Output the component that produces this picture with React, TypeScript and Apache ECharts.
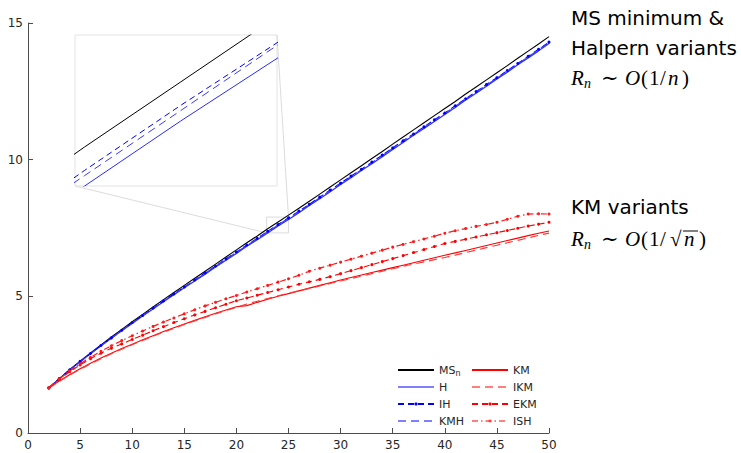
import React, { useEffect, useRef } from "react";
import * as echarts from "echarts";

// ---------- data ----------
const nValues = [2,3,4,5,6,7,8,9,10,11,12,13,14,15,16,17,18,19,20,21,22,23,24,25,26,27,28,29,30,31,32,33,34,35,36,37,38,39,40,41,42,43,44,45,46,47,48,49,50];

const msN = [1.65,1.99,2.32,2.63,2.93,3.22,3.51,3.79,4.07,4.34,4.61,4.88,5.14,5.40,5.66,5.92,6.18,6.44,6.70,6.96,7.21,7.47,7.72,7.97,8.22,8.48,8.74,9.00,9.26,9.52,9.78,10.04,10.30,10.57,10.83,11.09,11.35,11.61,11.87,12.13,12.40,12.66,12.92,13.18,13.44,13.71,13.97,14.23,14.50];
const hVals = [1.65,1.98,2.31,2.61,2.90,3.19,3.47,3.74,4.01,4.28,4.54,4.80,5.06,5.31,5.56,5.81,6.07,6.32,6.57,6.83,7.07,7.32,7.57,7.81,8.06,8.32,8.57,8.83,9.09,9.34,9.60,9.85,10.11,10.37,10.63,10.89,11.14,11.40,11.65,11.91,12.18,12.43,12.69,12.95,13.20,13.47,13.72,13.98,14.25];
const ihVals = [1.65,1.99,2.31,2.62,2.91,3.20,3.48,3.76,4.04,4.30,4.57,4.83,5.09,5.34,5.60,5.86,6.11,6.37,6.62,6.88,7.12,7.38,7.63,7.87,8.12,8.37,8.63,8.89,9.14,9.40,9.65,9.91,10.17,10.43,10.69,10.94,11.20,11.46,11.71,11.97,12.23,12.49,12.75,13.00,13.26,13.52,13.78,14.04,14.30];
const kmhVals = [1.65,1.98,2.30,2.61,2.90,3.19,3.47,3.75,4.02,4.29,4.56,4.82,5.07,5.33,5.58,5.84,6.10,6.35,6.61,6.86,7.11,7.36,7.61,7.86,8.10,8.35,8.61,8.87,9.12,9.38,9.63,9.89,10.15,10.41,10.67,10.92,11.18,11.44,11.69,11.95,12.21,12.47,12.73,12.98,13.24,13.50,13.76,14.02,14.28];
const kmVals = [1.65,1.90,2.13,2.35,2.55,2.74,2.92,3.09,3.25,3.41,3.56,3.71,3.85,3.99,4.12,4.25,4.38,4.50,4.62,4.66,4.78,4.89,5.00,5.10,5.20,5.30,5.40,5.50,5.60,5.69,5.78,5.87,5.96,6.05,6.14,6.23,6.32,6.41,6.50,6.59,6.68,6.77,6.86,6.95,7.04,7.13,7.22,7.31,7.39];
const ikmVals = [1.65,1.89,2.12,2.33,2.53,2.72,2.90,3.07,3.23,3.39,3.54,3.69,3.83,3.97,4.10,4.23,4.36,4.48,4.60,4.72,4.82,4.92,5.02,5.11,5.20,5.29,5.38,5.47,5.56,5.65,5.74,5.83,5.92,6.01,6.10,6.18,6.26,6.34,6.42,6.51,6.60,6.69,6.78,6.87,6.96,7.05,7.14,7.23,7.31];
const ekmVals = [1.65,1.96,2.24,2.49,2.72,2.92,3.10,3.26,3.42,3.58,3.74,3.89,4.04,4.18,4.32,4.45,4.58,4.71,4.84,4.94,5.04,5.14,5.24,5.34,5.44,5.53,5.62,5.72,5.83,5.94,6.05,6.16,6.27,6.38,6.49,6.60,6.71,6.82,6.93,7.01,7.09,7.17,7.25,7.33,7.41,7.49,7.57,7.64,7.71];
const ishVals = [1.65,1.98,2.27,2.53,2.77,2.99,3.19,3.38,3.56,3.73,3.90,4.06,4.21,4.36,4.51,4.65,4.78,4.91,5.03,5.16,5.28,5.40,5.52,5.64,5.77,5.92,6.03,6.14,6.25,6.36,6.47,6.58,6.69,6.80,6.90,7.00,7.10,7.20,7.31,7.40,7.48,7.56,7.63,7.71,7.82,7.93,8.01,8.02,8.01];

const xTicks = { min: 0, max: 50, interval: 5 };
const yTicks = { min: 0, max: 15, interval: 5 };
const zoomX = [22.9, 25.0];
const zoomY = [7.32, 7.90];

const legendLeft = ["MS_n", "H", "IH", "KMH"];
const legendRight = ["KM", "IKM", "EKM", "ISH"];

// ---------- styles ----------
type SDef = {
  name: string; vals: number[]; color: string; width: number; type: any; marker: boolean;
  legendColor: string; legendWidth: number;
};
const seriesDefs: SDef[] = [
  { name: "MS_n", vals: msN, color: "#000000", width: 1.1, type: "solid", marker: false, legendColor: "#000000", legendWidth: 1 },
  { name: "H", vals: hVals, color: "#2a2aff", width: 1.2, type: "solid", marker: false, legendColor: "rgba(0,0,255,0.5)", legendWidth: 2.2 },
  { name: "IH", vals: ihVals, color: "#0000ff", width: 1.1, type: [6, 4], marker: true, legendColor: "#0000ff", legendWidth: 1 },
  { name: "KMH", vals: kmhVals, color: "#3a3aff", width: 1.2, type: [8, 5], marker: false, legendColor: "rgba(0,0,255,0.5)", legendWidth: 2.2 },
  { name: "KM", vals: kmVals, color: "#ff0000", width: 1.1, type: "solid", marker: false, legendColor: "#ff0000", legendWidth: 1 },
  { name: "IKM", vals: ikmVals, color: "#ff3a3a", width: 1.2, type: [8, 5], marker: false, legendColor: "rgba(255,0,0,0.5)", legendWidth: 2.2 },
  { name: "EKM", vals: ekmVals, color: "#ff0000", width: 1.1, type: [6, 4], marker: true, legendColor: "#ff0000", legendWidth: 1 },
  { name: "ISH", vals: ishVals, color: "#ff1a1a", width: 1.2, type: [6, 3, 1.5, 3], marker: true, legendColor: "rgba(255,0,0,0.5)", legendWidth: 2.2 },
];

const pairs = (vals: number[]) => nValues.map((x, i) => [x, vals[i]]);

const AXIS_COLOR = "#4d4d4d";
const LABEL = { color: "#262626", fontSize: 12, fontFamily: "DejaVu Sans" };

const legendText = {
  color: "#262626",
  fontSize: 11,
  fontFamily: "DejaVu Sans",
  lineHeight: 14,
  rich: {
    a: { fontSize: 11, lineHeight: 14, fontFamily: "DejaVu Sans", color: "#262626", verticalAlign: "middle" },
    b: { fontSize: 8, lineHeight: 8, fontFamily: "DejaVu Sans", color: "#262626", verticalAlign: "bottom" },
  },
};
const legendFmt = (name: string) => (name === "MS_n" ? "{a|MS}{b|n}" : "{a|" + name + "}");

const SERIF = "Liberation Serif, DejaVu Serif, serif";
const mathStyles: Record<string, any> = {
  i: { fontFamily: SERIF, fontStyle: "italic", fontSize: 21, fill: "#000", dy: 0 },
  s: { fontFamily: SERIF, fontStyle: "italic", fontSize: 14, fill: "#000", dy: 5 },
  u: { fontFamily: SERIF, fontSize: 21, fill: "#000", dy: 0 },
};
// [glyph, x, style]
const mathLine1: [string, number, string][] = [
  ["R", 571, "i"], ["n", 584, "s"], ["∼", 601, "u"], ["O", 625, "i"], ["(", 641, "u"],
  ["1", 649, "u"], ["/", 660, "u"], ["n", 668, "i"], [")", 682, "u"],
];
const mathLine2: [string, number, string][] = [
  ["R", 571, "i"], ["n", 584, "s"], ["∼", 601, "u"], ["O", 625, "i"], ["(", 641, "u"],
  ["1", 649, "u"], ["/", 660, "u"], ["√", 670, "u"], ["n", 684, "i"], [")", 699, "u"],
];

export default function App() {
  const ref = useRef<HTMLDivElement>(null);
  useEffect(() => {
    if (!ref.current) return;
    const chart = echarts.init(ref.current, null, { renderer: "svg" });
    // empty series that only give the legend its (lighter, wider) sample lines
    const legendSeries = seriesDefs.map((d) => ({
      type: "line",
      name: d.name,
      xAxisIndex: 0,
      yAxisIndex: 0,
      data: [],
      symbol: d.marker ? "circle" : "none",
      itemStyle: { color: d.legendColor },
      lineStyle: { color: d.legendColor, width: d.legendWidth, type: d.type },
    }));
    const mainSeries = seriesDefs.map((d) => ({
      type: "line",
      name: d.name,
      xAxisIndex: 0,
      yAxisIndex: 0,
      data: pairs(d.vals),
      symbol: d.marker ? "circle" : "none",
      symbolSize: 3,
      showSymbol: d.marker,
      showAllSymbol: true,
      itemStyle: { color: d.color },
      lineStyle: { color: d.color, width: d.width, type: d.type },
      emphasis: { disabled: true },
    }));
    const insetSeries = seriesDefs.slice(0, 4).map((d) => ({
      type: "line",
      name: d.name + " (zoom)",
      xAxisIndex: 1,
      yAxisIndex: 1,
      data: pairs(d.vals),
      symbol: "none",
      clip: true,
      itemStyle: { color: d.color },
      lineStyle: { color: d.color, width: 1, type: d.type },
      emphasis: { disabled: true },
    }));
    const legendItem = (name: string) => {
      const d = seriesDefs.find((s) => s.name === name)!;
      return {
        name,
        itemStyle: d.marker
          ? { color: d.legendColor, borderWidth: 0 }
          : { color: "rgba(0,0,0,0)", borderWidth: 0, opacity: 0 },
      };
    };
    const legendBase = {
      orient: "vertical",
      top: 363,
      itemWidth: 36,
      itemHeight: 4,
      itemGap: 3,
      padding: 0,
      textStyle: legendText,
      formatter: legendFmt,
      selectedMode: false,
    };
    chart.setOption({
      animation: false,
      backgroundColor: "#ffffff",
      grid: [
        { left: 28, right: 192, top: 23, bottom: 20, outerBoundsMode: "none", containLabel: false },
        { left: 75, top: 35, width: 202, height: 151, show: true, borderColor: "#e3e3e3", borderWidth: 1, backgroundColor: "#ffffff", outerBoundsMode: "none", containLabel: false },
      ],
      xAxis: [
        {
          type: "value", gridIndex: 0, ...xTicks,
          axisLine: { show: true, onZero: false, lineStyle: { color: AXIS_COLOR, width: 1 } },
          axisTick: { show: true, inside: true, length: 5, lineStyle: { color: AXIS_COLOR } },
          axisLabel: { ...LABEL, margin: 6 },
          splitLine: { show: false },
        },
        { type: "value", gridIndex: 1, min: zoomX[0], max: zoomX[1], show: false, splitLine: { show: false } },
      ],
      yAxis: [
        {
          type: "value", gridIndex: 0, ...yTicks,
          axisLine: { show: true, onZero: false, lineStyle: { color: AXIS_COLOR, width: 1 } },
          axisTick: { show: true, inside: true, length: 5, lineStyle: { color: AXIS_COLOR } },
          axisLabel: { ...LABEL, margin: 5 },
          splitLine: { show: false },
        },
        { type: "value", gridIndex: 1, min: zoomY[0], max: zoomY[1], show: false, splitLine: { show: false } },
      ],
      legend: [
        { ...legendBase, left: 397, data: legendLeft.map(legendItem) },
        { ...legendBase, left: 471, data: legendRight.map(legendItem) },
      ],
      series: [...legendSeries, ...mainSeries, ...insetSeries],
    });

    const tl = chart.convertToPixel({ gridIndex: 0 }, [zoomX[0], zoomY[1]]) as number[];
    const br = chart.convertToPixel({ gridIndex: 0 }, [zoomX[1], zoomY[0]]) as number[];
    const iBL = chart.convertToPixel({ gridIndex: 1 }, [zoomX[0], zoomY[0]]) as number[];
    const iTR = chart.convertToPixel({ gridIndex: 1 }, [zoomX[1], zoomY[1]]) as number[];
    const guide = { stroke: "#dcdcdc", lineWidth: 1 };

    const headFont = { fontFamily: "DejaVu Sans", fontSize: 20, fill: "#000" };
    const mathEls = (pieces: [string, number, string][], cy: number) =>
      pieces.map(([t, x, s]) => {
        const st = mathStyles[s];
        return {
          type: "text",
          silent: true,
          style: {
            text: t, x, y: cy + st.dy, verticalAlign: "middle",
            fontFamily: st.fontFamily, fontStyle: st.fontStyle || "normal", fontSize: st.fontSize, fill: st.fill,
          },
        };
      });
    chart.setOption({
      graphic: [
        { type: "rect", silent: true, shape: { x: tl[0], y: tl[1], width: br[0] - tl[0], height: br[1] - tl[1] }, style: { fill: "none", ...guide } },
        { type: "line", silent: true, shape: { x1: iBL[0], y1: iBL[1], x2: tl[0], y2: br[1] }, style: guide },
        { type: "line", silent: true, shape: { x1: iTR[0], y1: iTR[1], x2: br[0], y2: tl[1] }, style: guide },
        { type: "text", silent: true, style: { text: "MS minimum &", x: 571, y: 18, verticalAlign: "middle", ...headFont } },
        { type: "text", silent: true, style: { text: "Halpern variants", x: 571, y: 48, verticalAlign: "middle", ...headFont } },
        ...mathEls(mathLine1, 78),
        { type: "text", silent: true, style: { text: "KM variants", x: 571, y: 207, verticalAlign: "middle", ...headFont } },
        ...mathEls(mathLine2, 239),
        { type: "line", silent: true, shape: { x1: 683, y1: 231, x2: 698, y2: 231 }, style: { stroke: "#000", lineWidth: 1 } },
      ],
    });
    return () => chart.dispose();
  }, []);
  return <div ref={ref} style={{ position: "fixed", left: 0, top: 0, width: 741, height: 453 }} />;
}
